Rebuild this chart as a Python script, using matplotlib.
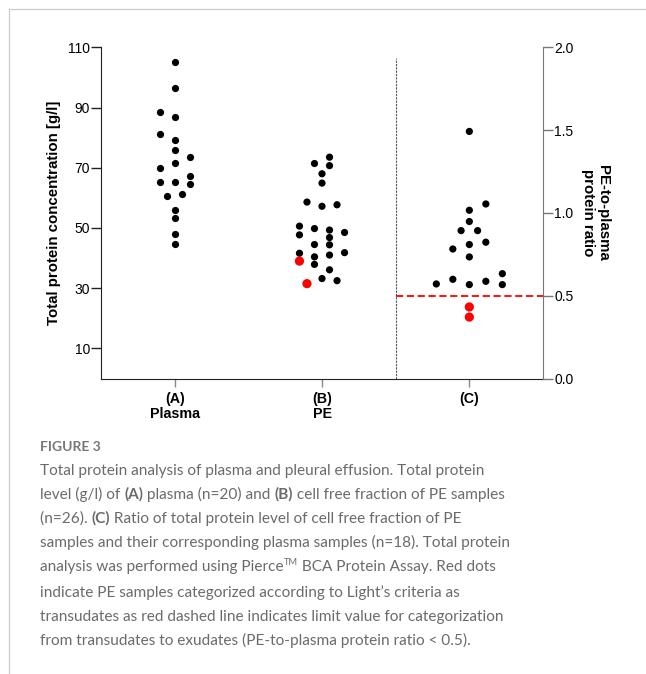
import matplotlib
matplotlib.use("Agg")
import matplotlib.pyplot as plt

# values
PLASMA = [105.2, 96.6, 88.4, 86.8, 81.3, 79.3, 75.8, 73.4, 71.6, 69.8,
          67.4, 65.3, 65.3, 64.7, 61.3, 60.7, 56.0, 53.3, 48.0, 44.7]
PLASMA_LANE = [0, 0, -2, 0, -2, 0, 0, 2, 0, -2, 2, -2, 0, 2, 1, -1, 0, 0, 0, 0]

PE = [73.5, 71.4, 70.7, 68.0, 64.9, 58.6, 57.7, 57.2, 50.6, 49.8, 49.3, 48.5, 47.7,
      46.8, 44.5, 44.4, 41.8, 41.6, 41.0, 40.4, 39.0, 37.9, 36.1, 33.2, 32.5, 31.5]
PE_LANE = [1, -1, 1, 0, 0, -2, 2, 0, -3, -1, 1, 3, -3, 1, -1, 1, 3, -3, 1, -1,
           -3, -1, 1, 0, 2, -2]
PE_TRANSUDATE = [False] * 20 + [True] + [False] * 4 + [True]

RATIO = [1.492, 1.054, 1.016, 0.948, 0.893, 0.893, 0.823, 0.809, 0.782, 0.734,
         0.633, 0.599, 0.587, 0.571, 0.567, 0.567, 0.432, 0.371]
RATIO_LANE = [0, 2, 0, 0, -1, 1, 2, 0, -2, 0, 4, -2, 2, -4, 0, 4, 0, 0]
RATIO_TRANSUDATE = [False] * 16 + [True, True]

CATEGORIES = ["(A)\nPlasma", "(B)\nPE", "(C)"]
LEFT_TICKS = [10, 30, 50, 70, 90, 110]
RIGHT_TICKS = [0.0, 0.5, 1.0, 1.5, 2.0]
RATIO_LIMIT = 0.5

CAPTION_TITLE = "FIGURE 3"
# each line is a list of (text, bold, superscript) runs
CAPTION_LINES = [
    [("Total protein analysis of plasma and pleural effusion. Total protein", False, False)],
    [("level (g/l) of ", False, False), ("(A)", True, False), (" plasma (n=20) and ", False, False),
     ("(B)", True, False), (" cell free fraction of PE samples", False, False)],
    [("(n=26). ", False, False), ("(C)", True, False),
     (" Ratio of total protein level of cell free fraction of PE", False, False)],
    [("samples and their corresponding plasma samples (n=18). Total protein", False, False)],
    [("analysis was performed using Pierce", False, False), ("TM", False, True),
     (" BCA Protein Assay. Red dots", False, False)],
    [("indicate PE samples categorized according to Light\u2019s criteria as", False, False)],
    [("transudates as red dashed line indicates limit value for categorization", False, False)],
    [("from transudates to exudates (PE-to-plasma protein ratio < 0.5).", False, False)],
]

BLACK = "#000000"
RED = "#ff0000"
W, H = 646, 674


def lane_x(center, lanes, step):
    return [center + lane * step for lane in lanes]


def split_colors(flags):
    return [RED if f else BLACK for f in flags]


def split_sizes(flags):
    return [44 if f else 27 for f in flags]


plt.rcParams["font.family"] = ["Liberation Sans", "DejaVu Sans"]
fig = plt.figure(figsize=(W / 100, H / 100), dpi=100)

# page frame lines
fig.add_artist(plt.Line2D([9.3 / W, 9.3 / W], [0, 1 - 9.3 / H], color="#cccccc", lw=0.9))
fig.add_artist(plt.Line2D([9.3 / W, 1], [1 - 9.3 / H, 1 - 9.3 / H], color="#cccccc", lw=0.9))

ax = fig.add_axes([101 / W, 1 - 378.5 / H, 442 / W, 331.2 / H])
ax.set_xlim(-0.5, 2.5)
ax.set_ylim(0, 110)

ax.scatter(lane_x(0, PLASMA_LANE, 0.051), PLASMA, s=27, color=BLACK, linewidths=0, zorder=3)
ax.scatter(lane_x(1, PE_LANE, 0.051), PE, s=split_sizes(PE_TRANSUDATE),
           color=split_colors(PE_TRANSUDATE), linewidths=0, zorder=3)
ax.vlines(1.5, 0, 106.5, colors="#555555", linestyles=(0, (2, 1)), lw=0.8)

ax.set_yticks(LEFT_TICKS)
ax.set_xticks(range(len(CATEGORIES)))
ax.set_xticklabels(CATEGORIES, fontweight="bold", fontsize=10.3, linespacing=1.1)
ax.tick_params(axis="y", direction="out", length=7, width=1, color="#222222",
               labelsize=10, pad=1)
ax.tick_params(axis="x", direction="out", length=6, width=1, color="#888888", pad=4)
ax.set_ylabel("Total protein concentration [g/l]", fontweight="bold", fontsize=10.8,
              labelpad=5)
ax.spines["top"].set_visible(False)
ax.spines["right"].set_visible(False)
ax.spines["left"].set_color("#222222")
ax.spines["bottom"].set_color("#222222")

ax2 = ax.twinx()
ax2.set_ylim(0, 2.0)
ax2.scatter(lane_x(2, RATIO_LANE, 0.056), RATIO, s=split_sizes(RATIO_TRANSUDATE),
            color=split_colors(RATIO_TRANSUDATE), linewidths=0, zorder=3)
ax2.hlines(RATIO_LIMIT, 1.5, 2.5, colors=RED, linestyles=(0, (4, 2)), lw=1.3, zorder=2)
ax2.set_yticks(RIGHT_TICKS)
ax2.set_yticklabels([f"{t:.1f}" for t in RIGHT_TICKS])
ax2.tick_params(axis="y", direction="out", length=7, width=1, color="#777777",
                labelsize=10, pad=1)
ax2.set_ylabel("PE-to-plasma\nprotein ratio", fontweight="bold", fontsize=10.8,
               rotation=270, labelpad=26, linespacing=1.05)
ax2.spines["top"].set_visible(False)
ax2.spines["left"].set_visible(False)
ax2.spines["bottom"].set_visible(False)
ax2.spines["right"].set_color("#777777")

# caption
cap_font = ["Lato", "DejaVu Sans"]
cap_color = "#6b6b6b"
renderer = fig.canvas.get_renderer()


def text_width(s, **kw):
    probe = fig.text(0, 0, "x" + s + "x", **kw)
    ref = fig.text(0, 0, "xx", **kw)
    w = probe.get_window_extent(renderer).width - ref.get_window_extent(renderer).width
    probe.remove()
    ref.remove()
    return w


# size the caption so its widest line spans the same width as in the figure
trial = 12.0
cap_size = trial * 468 / text_width(CAPTION_LINES[3][0][0], family=cap_font, fontsize=trial)

fig.text(40 / W, 1 - 450.7 / H, CAPTION_TITLE, family=cap_font, fontsize=cap_size * 0.9,
         color="#777777", va="baseline", fontweight="bold")

baseline = 475
for i, line in enumerate(CAPTION_LINES):
    x_px = 40
    for text, bold, sup in line:
        size = cap_size * 0.6 if sup else cap_size
        kw = dict(family=cap_font, fontsize=size, color=cap_color,
                  fontweight="bold" if bold else "normal")
        y_px = baseline - 6 if sup else baseline
        fig.text(x_px / W, 1 - y_px / H, text, va="baseline", **kw)
        x_px += text_width(text, **kw)
    baseline += 25.5 if i == 4 else 24

fig.savefig("out.png", dpi=100)
